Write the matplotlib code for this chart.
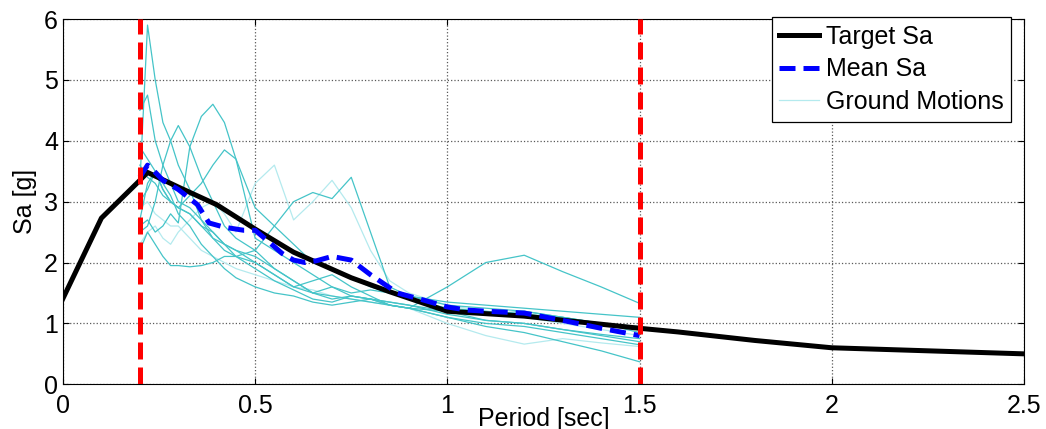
import matplotlib
matplotlib.use('Agg')
from matplotlib import pyplot as plt

plt.rcParams['font.family'] = ['Liberation Sans', 'DejaVu Sans']

# target spectrum
t_target = [0, 0.1, 0.2, 0.22, 0.3, 0.4, 0.5, 0.6, 0.75, 0.85, 1.0, 1.2, 1.5, 1.6, 1.8, 2.0, 2.25, 2.5]
sa_target = [1.41, 2.73, 3.35, 3.48, 3.24, 2.95, 2.55, 2.17, 1.75, 1.52, 1.2, 1.12, 0.92, 0.86, 0.72, 0.6, 0.55, 0.5]

# mean of selected records
t_mean = [0.2, 0.22, 0.23, 0.26, 0.3, 0.35, 0.38, 0.42, 0.47, 0.5, 0.53, 0.57, 0.6, 0.63, 0.66,
          0.7, 0.75, 0.8, 0.87, 0.94, 1.0, 1.05, 1.1, 1.2, 1.3, 1.4, 1.5]
sa_mean = [3.4, 3.6, 3.55, 3.35, 3.2, 2.95, 2.65, 2.58, 2.53, 2.53, 2.37, 2.15, 2.04, 2.0, 2.03,
           2.1, 2.04, 1.8, 1.5, 1.38, 1.27, 1.22, 1.2, 1.17, 1.05, 0.92, 0.8]

# ground motion spectra (periods shared)
t_gm = [0.20, 0.22, 0.24, 0.26, 0.28, 0.30, 0.33, 0.36, 0.39, 0.42, 0.45, 0.50, 0.55,
        0.60, 0.65, 0.70, 0.75, 0.80, 0.85, 0.90, 1.00, 1.10, 1.20, 1.30, 1.40, 1.50]
gm_pale1 = [2.3, 2.5, 2.6, 2.4, 2.3, 2.5, 2.7, 2.9, 3.0, 2.8, 2.5, 3.3, 3.6,
            2.7, 3.0, 3.35, 2.9, 2.2, 1.7, 1.5, 1.3, 1.2, 1.1, 1.0, 0.9, 0.8]
gm_pale2 = [2.9, 3.0, 2.8, 2.7, 2.6, 2.6, 2.4, 2.2, 2.1, 2.0, 1.9, 1.8, 1.7,
            1.6, 1.55, 1.45, 1.4, 1.35, 1.3, 1.25, 1.0, 0.8, 0.66, 0.75, 0.68, 0.62]
gm1 = [3.3, 5.9, 5.0, 4.3, 4.0, 3.6, 3.2, 2.7, 2.5, 2.3, 2.2, 2.1, 1.9,
       1.7, 1.5, 1.6, 1.45, 1.4, 1.35, 1.3, 1.15, 1.05, 1.0, 0.9, 0.82, 0.75]
gm2 = [4.5, 4.75, 4.0, 3.6, 3.3, 3.0, 2.9, 2.7, 2.4, 2.3, 2.2, 2.0, 1.8,
       1.6, 1.7, 1.8, 1.6, 1.45, 1.3, 1.25, 1.2, 1.15, 1.2, 1.1, 1.0, 0.95]
gm3 = [2.6, 2.7, 2.5, 2.6, 2.8, 2.65, 3.9, 4.4, 4.6, 4.3, 3.7, 2.4, 2.2,
       2.0, 1.8, 1.6, 1.5, 1.55, 1.5, 1.4, 1.25, 1.2, 1.15, 1.1, 1.0, 0.9]
gm4 = [2.5, 2.6, 3.0, 3.6, 4.0, 4.25, 3.9, 3.4, 3.0, 2.6, 2.4, 2.2, 1.9,
       1.7, 1.5, 1.45, 1.4, 1.35, 1.3, 1.25, 1.1, 1.0, 0.95, 0.85, 0.75, 0.65]
gm5 = [3.9, 3.7, 3.5, 3.2, 3.0, 2.9, 3.1, 3.3, 3.6, 3.85, 3.7, 2.9, 2.6,
       2.3, 2.0, 1.9, 1.75, 1.6, 1.5, 1.45, 1.3, 1.25, 1.2, 1.1, 1.0, 0.85]
gm6 = [2.7, 3.3, 3.5, 3.2, 3.0, 2.9, 2.8, 2.6, 2.4, 2.2, 2.1, 2.2, 2.6,
       3.0, 3.15, 3.05, 3.4, 2.5, 1.6, 1.45, 1.35, 1.3, 1.25, 1.2, 1.15, 1.1]
gm7 = [2.2, 2.5, 2.3, 2.1, 1.95, 1.95, 1.93, 1.95, 2.0, 2.1, 2.1, 2.0, 1.8,
       1.6, 1.5, 1.4, 1.45, 1.4, 1.35, 1.3, 1.2, 1.05, 1.0, 0.9, 0.8, 0.7]
gm8 = [3.0, 3.2, 3.5, 3.3, 3.1, 2.8, 2.6, 2.3, 2.1, 1.9, 1.75, 1.6, 1.5,
       1.45, 1.35, 1.3, 1.35, 1.4, 1.3, 1.25, 1.1, 0.95, 0.85, 0.7, 0.55, 0.37]
gm9 = [3.6, 3.4, 3.3, 3.1, 3.0, 2.9, 2.8, 2.6, 2.5, 2.3, 2.1, 1.9, 1.7,
       1.55, 1.4, 1.35, 1.45, 1.4, 1.3, 1.25, 1.6, 2.0, 2.12, 1.85, 1.6, 1.33]

limits = [0.2, 1.5]

fig = plt.figure(figsize=(10.46, 4.29), dpi=100)
ax = fig.add_axes([0.0602, 0.1042, 0.9187, 0.8515])

ax.plot(t_target, sa_target, color='black', lw=3.6, label='Target Sa', zorder=4)
ax.plot(t_mean, sa_mean, color='#0000ff', lw=3.6, dashes=(3.2, 1.6), label='Mean Sa', zorder=5)
ax.plot(t_gm, gm_pale1, color='#b4eaee', lw=0.9, label='Ground Motions', zorder=3)
ax.plot(t_gm, gm_pale2, color='#b4eaee', lw=0.9, zorder=3)
for gm in [gm1, gm2, gm3, gm4, gm5, gm6, gm7, gm8, gm9]:
    ax.plot(t_gm, gm, color='#45c4c8', lw=0.9, zorder=3)

for x in limits:
    ax.plot([x, x], [0, 6], color='#ff0000', lw=3.6, dashes=(3.4, 1.6), zorder=6)

ax.set_xlim(0, 2.5)
ax.set_ylim(0, 6)
ax.set_xticks([0, 0.5, 1, 1.5, 2, 2.5])
ax.set_xticklabels(['0', '0.5', '1', '1.5', '2', '2.5'])
ax.set_yticks(range(7))
ax.grid(True, color='0.35', linestyle=':', lw=0.9)
ax.tick_params(direction='in', length=4, width=0.8, top=True, right=True, labelsize=18)
ax.tick_params(axis='x', pad=7)
ax.tick_params(axis='y', pad=3.5)
for sp in ax.spines.values():
    sp.set_linewidth(0.8)

ax.set_ylabel('Sa [g]', fontsize=18, va='center')
ax.yaxis.set_label_coords(-0.04, 0.5)
ax.set_xlabel('Period [sec]', fontsize=18, va='top')
ax.xaxis.set_label_coords(0.5, -0.062)

leg = ax.legend(loc='upper right', bbox_to_anchor=(0.9865, 1.005), borderaxespad=0,
                fontsize=18, fancybox=False, framealpha=1, edgecolor='black',
                handlelength=1.6, handletextpad=0.25, labelspacing=0.35, borderpad=0.3)
leg.get_frame().set_linewidth(0.9)

fig.savefig('out.png', dpi=100)
